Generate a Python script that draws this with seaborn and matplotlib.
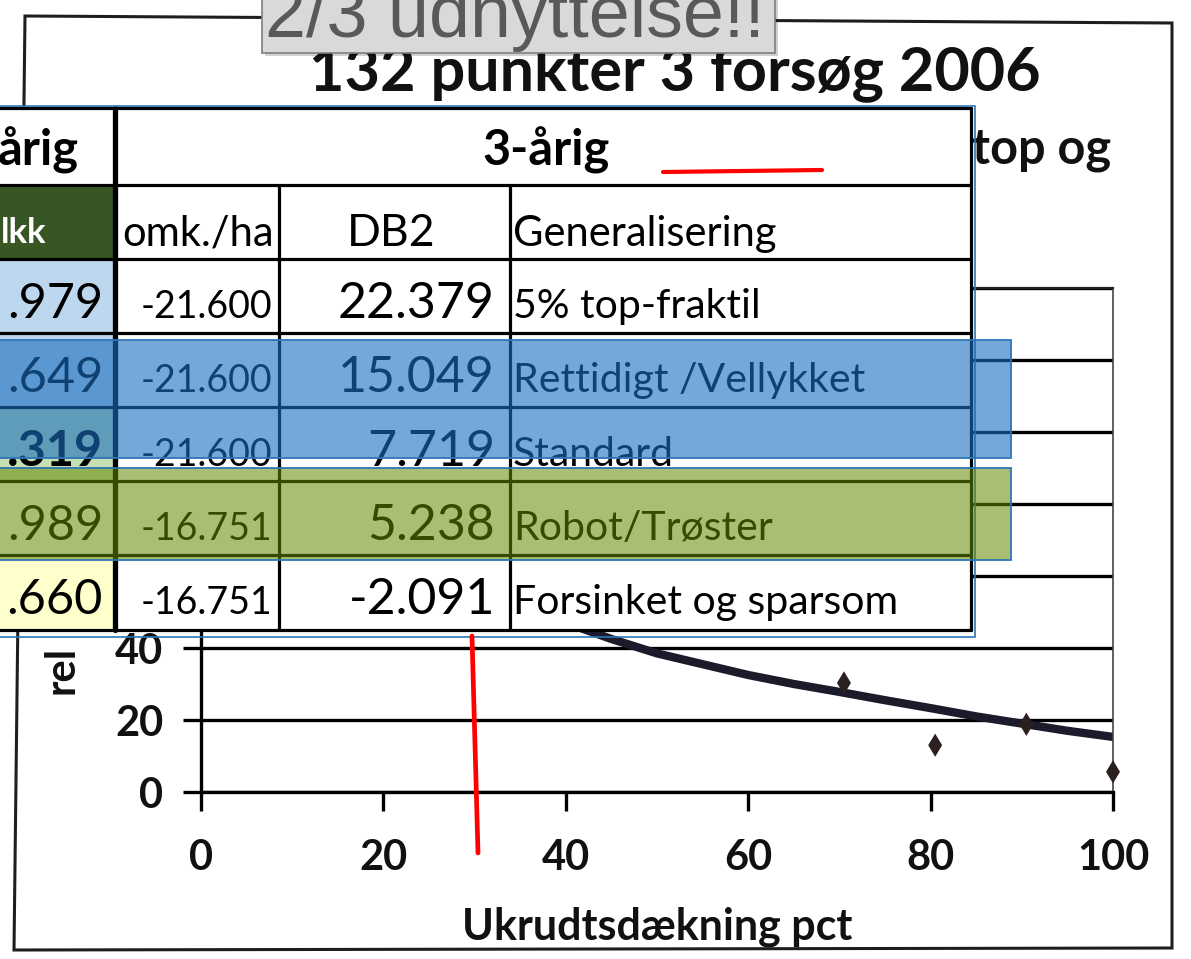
import matplotlib
matplotlib.use("Agg")
import matplotlib.pyplot as plt
import matplotlib.colors as mcolors
from matplotlib.patches import Rectangle, Polygon
import seaborn as sns

# --- chart data ---
curve_x = [40, 45, 50, 55, 60, 65, 70, 75, 80, 85, 90, 95, 100]
curve_y = [47, 42.5, 38.5, 35.5, 32.5, 30, 27.8, 25.5, 23.3, 21, 19, 17, 15.3]
obs_x = [70.5, 80.5, 90.5, 100]
obs_y = [30.3, 13, 18.8, 5.6]
x_ticks = [0, 20, 40, 60, 80, 100]
y_ticks = [0, 20, 40, 60, 80, 100, 120, 140]
# labels above 40 sit under the pasted table
y_tick_labels = ["0", "20", "40", "", "", "", "", ""]

# --- table data (left column is cut off in the slide) ---
header_left = "årig"
header_main = "3-årig"
col_heads = ["lkk", "omk./ha", "DB2", "Generalisering"]
left_vals = [".979", ".649", ".319", ".989", ".660"]
omk = [-21600, -21600, -21600, -16751, -16751]
db2 = [22379, 15049, 7719, 5238, -2091]
general = ["5% top-fraktil", "Rettidigt /Vellykket", "Standard",
           "Robot/Trøster", "Forsinket og sparsom"]
left_fill = ["#bdd7ee", "#bdd7ee", "#c5e0b3", "white", "#ffffcc"]

title = "132 punkter 3 forsøg 2006"
subtitle_tail = "top og"
ylabel_visible = "rel"   # rest of the axis title is hidden under the table
callout = "2/3 udnyttelse!!"


def dk(v):
    # danish thousands separator
    return f"{v:,}".replace(",", ".")


sns.set_theme(style="white")
plt.rcParams['font.family'] = ['Lato', 'DejaVu Sans']

W, H = 1191, 959
fig = plt.figure(figsize=(W / 100, H / 100), dpi=100)
fig.patch.set_facecolor('white')

# scanned chart, plot box in pixels
L, R, T, B = 201, 1113, 288, 792
ax = fig.add_axes([L / W, 1 - B / H, (R - L) / W, (B - T) / H], zorder=1)
sns.lineplot(x=curve_x, y=curve_y, ax=ax, color='#1b1b2b', lw=6)
sns.scatterplot(x=obs_x, y=obs_y, ax=ax, marker='d', s=140,
                color='#2a2020', edgecolor='none', zorder=4, clip_on=False)
ax.set_xlim(0, 100)
ax.set_ylim(0, 140)
ax.set_xticks(x_ticks)
ax.set_yticks(y_ticks)
ax.set_yticklabels(y_tick_labels)
ax.yaxis.grid(True, color='black', lw=2.4)
ax.xaxis.grid(False)
ax.set_axisbelow(True)
ax.spines['left'].set(color='black', lw=2.4)
ax.spines['bottom'].set(color='black', lw=2.4)
ax.spines['top'].set(color='#222222', lw=1.6)
ax.spines['right'].set(color='#444444', lw=1.2)
ax.tick_params(axis='y', left=True, length=13, width=2.4, color='black',
               pad=14, labelsize=30)
ax.tick_params(axis='x', bottom=True, length=14, width=2.4, color='black',
               pad=20, labelsize=30)
for t in ax.get_xticklabels() + ax.get_yticklabels():
    t.set_fontweight('bold')
    t.set_color('#111111')
ax.set_xlabel("Ukrudtsdækning pct", fontsize=31, fontweight='bold', color='#111111')
ax.xaxis.set_label_coords(0.5, (B - 927) / (B - T))
ax.xaxis.label.set_va('center')
ax.set_ylabel(ylabel_visible, fontsize=30, fontweight='bold', color='#111111',
              ha='left', va='center')
ax.yaxis.set_label_coords((62 - L) / (R - L), (B - 694) / (B - T))

# overlay in pixel coordinates (frame, title, pasted table, callouts)
ov = fig.add_axes([0, 0, 1, 1], zorder=5)
ov.set_xlim(0, W)
ov.set_ylim(H, 0)
ov.axis('off')

ov.add_patch(Polygon([(25, 16), (1172, 23), (1172, 948), (14, 950)],
                     closed=True, fill=False, ec='#1e1e1e', lw=2.2, zorder=1))
ov.text(675, 73, title, ha='center', va='center', fontsize=44,
        fontweight='bold', color='#111111', zorder=2)
ov.text(972, 150, subtitle_tail, ha='left', va='center', fontsize=35,
        fontweight='bold', color='#111111', zorder=2)

# table
rows = [108, 185, 259, 333, 407, 481, 555, 630]
cols = [-10, 115, 279, 510, 971]
ov.add_patch(Rectangle((cols[0], rows[0]), cols[-1] - cols[0], rows[-1] - rows[0],
                       fc='white', ec='none', zorder=3))
ov.add_patch(Rectangle((cols[0], rows[1]), cols[1] - cols[0], rows[2] - rows[1],
                       fc='#375623', ec='none', zorder=3.1))
for i, c in enumerate(left_fill):
    ov.add_patch(Rectangle((cols[0], rows[i + 2]), cols[1] - cols[0],
                           rows[i + 3] - rows[i + 2], fc=c, ec='none', zorder=3.1))
lw_grid = 2.3
for y in rows:
    ov.plot([cols[0], cols[-1]], [y, y], color='black', lw=lw_grid, zorder=4)
ov.plot([cols[1], cols[1]], [rows[0], rows[-1]], color='black', lw=3.8, zorder=4)
for x in cols[2:4]:
    ov.plot([x, x], [rows[1], rows[-1]], color='black', lw=lw_grid, zorder=4)
ov.plot([cols[-1], cols[-1]], [rows[0], rows[-1]], color='black', lw=lw_grid, zorder=4)
ov.add_patch(Rectangle((cols[0], 105.5), 975 - cols[0], 637 - 105.5,
                       fill=False, ec='#2e75b6', lw=1.2, zorder=4.5))

tk = dict(va='baseline', zorder=6, color='black')
ov.text(79, rows[0] + 58, header_left, ha='right', fontsize=35, fontweight='bold', **tk)
ov.text(546, rows[0] + 58, header_main, ha='center', fontsize=35, fontweight='bold', **tk)
hb = rows[1] + 61
ov.text(1, hb - 3, col_heads[0], ha='left', fontsize=25, fontweight='bold',
        va='baseline', zorder=6, color='white')
ov.text(122, hb, col_heads[1], ha='left', fontsize=30, **tk)
ov.text(391, hb, col_heads[2], ha='center', fontsize=32, **tk)
ov.text(513, hb, col_heads[3], ha='left', fontsize=30, **tk)
for i in range(len(left_vals)):
    bl = rows[i + 2] + 59
    ov.text(103, bl, left_vals[i], ha='right', fontsize=35,
            fontweight='bold' if i == 2 else 'normal', **tk)
    ov.text(272, bl, dk(omk[i]), ha='right', fontsize=27, **tk)
    ov.text(495, bl, dk(db2[i]), ha='right', fontsize=36, **tk)
    ov.text(513, bl, general[i], ha='left', fontsize=29.5, **tk)

# highlight bands pasted over the table
ov.add_patch(Rectangle((-10, 340), 1021, 118, fc=mcolors.to_rgba('#1a6fc0', 0.6),
                       ec='#2e75b6', lw=1.3, zorder=8))
ov.add_patch(Rectangle((-10, 468), 1021, 92, fc=mcolors.to_rgba('#648a00', 0.55),
                       ec='#2e75b6', lw=1.3, zorder=8))

# red marker lines
ov.plot([663, 822], [172, 170], color='#ff0000', lw=3, zorder=9)
ov.plot([472, 478], [636, 853], color='#ff0000', lw=3.4, zorder=9)

# gray callout box
ov.add_patch(Rectangle((265, -2), 513, 58, fc=(0, 0, 0, 0.18), ec='none', zorder=9.5))
ov.add_patch(Rectangle((262, -5), 513, 58, fc='#d9d9d9', ec='#7f7f7f', lw=1.2, zorder=10))
ov.text(515, 37, callout, ha='center', va='baseline', fontsize=53, color='#595959',
        family=['Liberation Sans', 'DejaVu Sans'], zorder=11)

fig.savefig("out.png", dpi=100)
